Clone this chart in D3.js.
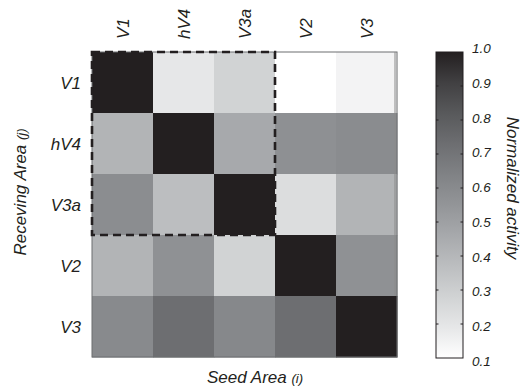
<!DOCTYPE html>
<html>
<head>
<meta charset="utf-8">
<script src="https://cdn.jsdelivr.net/npm/d3@7"></script>
<style>
  body { margin: 0; background: #fff; }
  text { font-family: "Liberation Sans", Arial, sans-serif; font-style: italic; fill: #231f20; }
</style>
</head>
<body>
<div id="chart"></div>
<script>
  const areas = ["V1", "hV4", "V3a", "V2", "V3"];
  // rows = receiving area (j), columns = seed area (i)
  const activity = [
    [1.00, 0.19, 0.28, 0.10, 0.145],
    [0.415, 1.00, 0.46, 0.575, 0.595],
    [0.59, 0.37, 1.00, 0.235, 0.415],
    [0.415, 0.57, 0.28, 1.00, 0.57],
    [0.60, 0.73, 0.61, 0.73, 1.00]
  ];
  const barTicks = [0.1, 0.2, 0.3, 0.4, 0.5, 0.6, 0.7, 0.8, 0.9, 1.0];
  const groupedAreas = ["V1", "hV4", "V3a"];

  const width = 521, height = 390;
  const svg = d3.select("#chart").append("svg")
    .attr("width", width).attr("height", height);

  const plot = { left: 92, top: 52, size: 305 };

  const x = d3.scaleBand().domain(areas).range([plot.left, plot.left + plot.size]);
  const y = d3.scaleBand().domain(areas).range([plot.top, plot.top + plot.size]);

  // grey ramp like print black tints (0% .. 100% K)
  const ramp = ["#ffffff", "#e6e7e8", "#d1d3d4", "#bcbec0", "#a7a9ac", "#939598",
                "#808285", "#6d6e71", "#58595b", "#414042", "#231f20"];
  const color = d3.scaleLinear()
    .domain(d3.range(ramp.length).map(k => 0.1 + 0.9 * k / (ramp.length - 1)))
    .range(ramp)
    .clamp(true);

  // cells
  const cells = [];
  activity.forEach((row, j) => row.forEach((v, i) => cells.push({ j: areas[j], i: areas[i], v: v })));
  svg.append("g").selectAll("rect")
    .data(cells)
    .join("rect")
    .attr("x", d => x(d.i))
    .attr("y", d => y(d.j))
    .attr("width", x.bandwidth() + 0.5)
    .attr("height", y.bandwidth() + 0.5)
    .attr("fill", d => color(d.v));

  // frame
  svg.append("rect")
    .attr("x", plot.left).attr("y", plot.top)
    .attr("width", plot.size).attr("height", plot.size)
    .attr("fill", "none").attr("stroke", "#6d6e71").attr("stroke-width", 1);
  svg.append("line")
    .attr("x1", plot.left + plot.size - 2).attr("x2", plot.left + plot.size - 2)
    .attr("y1", plot.top).attr("y2", y("V3"))
    .attr("stroke", "#8a8a8a").attr("stroke-width", 1);

  // dashed box around V1/hV4/V3a block
  const gx0 = x(groupedAreas[0]), gx1 = x(groupedAreas[groupedAreas.length - 1]) + x.bandwidth();
  const gy0 = y(groupedAreas[0]), gy1 = y(groupedAreas[groupedAreas.length - 1]) + y.bandwidth();
  svg.append("rect")
    .attr("x", gx0).attr("y", gy0)
    .attr("width", gx1 - gx0).attr("height", gy1 - gy0)
    .attr("fill", "none")
    .attr("stroke", "#231f20")
    .attr("stroke-width", 2.6)
    .attr("stroke-dasharray", "8,5");

  // column labels (rotated)
  svg.append("g").selectAll("text")
    .data(areas)
    .join("text")
    .attr("transform", d => `translate(${x(d) + x.bandwidth() / 2 + 6}, 39) rotate(-90)`)
    .attr("text-anchor", "start")
    .attr("font-size", 17)
    .text(d => d);

  // row labels
  svg.append("g").selectAll("text")
    .data(areas)
    .join("text")
    .attr("x", 81)
    .attr("y", d => y(d) + y.bandwidth() / 2 + 6)
    .attr("text-anchor", "end")
    .attr("font-size", 17)
    .text(d => d);

  // axis titles
  const yt = svg.append("text")
    .attr("transform", `translate(26, 192) rotate(-90)`)
    .attr("text-anchor", "middle")
    .attr("font-size", 17);
  yt.append("tspan").text("Receving Area ");
  yt.append("tspan").attr("font-size", 13).text("(j)");

  const xt = svg.append("text")
    .attr("x", 255).attr("y", 383)
    .attr("text-anchor", "middle")
    .attr("font-size", 17);
  xt.append("tspan").text("Seed Area ");
  xt.append("tspan").attr("font-size", 13).text("(i)");

  // colorbar
  const bar = { x: 436, w: 27, top: 52, bottom: 358 };
  const cy = d3.scaleLinear().domain([0.1, 1.0]).range([bar.bottom, bar.top]);
  const grad = svg.append("defs").append("linearGradient")
    .attr("id", "cbar").attr("x1", 0).attr("y1", 1).attr("x2", 0).attr("y2", 0);
  grad.selectAll("stop")
    .data(color.domain())
    .join("stop")
    .attr("offset", d => (d - 0.1) / 0.9)
    .attr("stop-color", d => color(d));
  svg.append("rect")
    .attr("x", bar.x).attr("y", bar.top)
    .attr("width", bar.w).attr("height", bar.bottom - bar.top)
    .attr("fill", "url(#cbar)")
    .attr("stroke", "#231f20").attr("stroke-width", 1);

  const inner = barTicks.slice(1, -1);
  svg.append("g").selectAll("line")
    .data(inner)
    .join("line")
    .attr("x1", bar.x).attr("x2", bar.x + 2.5)
    .attr("y1", d => cy(d)).attr("y2", d => cy(d))
    .attr("stroke", "#231f20").attr("stroke-width", 1);
  svg.append("g").selectAll("line")
    .data(inner)
    .join("line")
    .attr("x1", bar.x + bar.w - 2.5).attr("x2", bar.x + bar.w)
    .attr("y1", d => cy(d)).attr("y2", d => cy(d))
    .attr("stroke", "#231f20").attr("stroke-width", 1);

  const labelY = d3.scaleLinear().domain([0.1, 1.0]).range([366, 53]);
  svg.append("g").selectAll("text")
    .data(barTicks)
    .join("text")
    .attr("x", 472)
    .attr("y", d => labelY(d))
    .attr("font-size", 13.5)
    .text(d => d.toFixed(1));

  svg.append("text")
    .attr("transform", `translate(507, 188) rotate(90)`)
    .attr("text-anchor", "middle")
    .attr("font-size", 17)
    .text("Normalized activity");
</script>
</body>
</html>
